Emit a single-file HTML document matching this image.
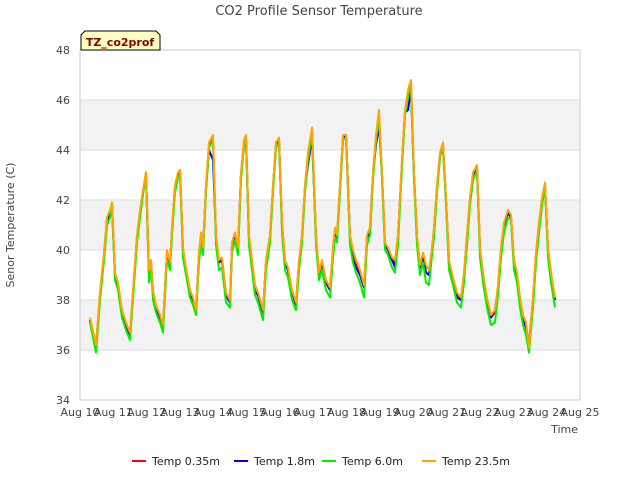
<!DOCTYPE html>
<html><head><meta charset="utf-8"><style>
body{margin:0;background:#fff;font-family:"Liberation Sans","DejaVu Sans",sans-serif;}
svg text{font-family:"DejaVu Sans","Liberation Sans",sans-serif;}
</style></head><body>
<svg id="chart" width="640" height="480" viewBox="0 0 640 480" xmlns="http://www.w3.org/2000/svg">
<rect x="0" y="0" width="640" height="480" fill="#fff"/>
<text x="319" y="15" text-anchor="middle" font-size="13" fill="#444">CO2 Profile Sensor Temperature</text>
<g id="bands"></g>
<g id="grid"></g>
<rect x="80" y="50" width="500" height="350" fill="none" stroke="#ccc"/>
<g id="yticks"></g>
<g id="xticks"></g>
<g id="series"></g>
<text x="14" y="225" transform="rotate(-90 14 225)" text-anchor="middle" font-size="11" fill="#444">Senor Temperature (C)</text>
<text x="578" y="433" text-anchor="end" font-size="11" fill="#444">Time</text>
<g>
<path d="M81,50 L81,35 L85,31 L156,31 L160,35 L160,50 Z" fill="#ffffc0" stroke="#000" stroke-width="1"/>
<text x="120" y="46" text-anchor="middle" font-size="11" font-weight="bold" fill="#8b0000">TZ_co2prof</text>
</g>
<g id="legend"></g>
</svg>
<script>
const yTicks=[34,36,38,40,42,44,46,48];
const xTickLabels=["Aug 10","Aug 11","Aug 12","Aug 13","Aug 14","Aug 15","Aug 16","Aug 17","Aug 18","Aug 19","Aug 20","Aug 21","Aug 22","Aug 23","Aug 24","Aug 25"];
const seriesNames=["Temp 0.35m","Temp 1.8m","Temp 6.0m","Temp 23.5m"];
const seriesColors=["#ff0000","#0000ff","#00ee00","#ffa500"];
const days=[0.3,0.48,0.6,0.72,0.81,0.9,0.96,1.05,1.14,1.26,1.38,1.5,1.62,1.71,1.8,1.89,1.98,2.07,2.13,2.19,2.28,2.4,2.49,2.61,2.7,2.76,2.85,2.94,3.0,3.09,3.18,3.3,3.39,3.48,3.57,3.63,3.69,3.78,3.87,3.99,4.08,4.17,4.26,4.38,4.5,4.56,4.65,4.74,4.83,4.92,4.98,5.07,5.16,5.25,5.34,5.49,5.58,5.7,5.79,5.88,5.97,6.06,6.15,6.24,6.36,6.48,6.57,6.66,6.75,6.84,6.96,7.08,7.17,7.26,7.38,7.5,7.59,7.65,7.71,7.8,7.89,7.98,8.1,8.19,8.28,8.4,8.52,8.61,8.7,8.79,8.88,8.97,9.06,9.15,9.24,9.36,9.45,9.54,9.66,9.75,9.84,9.93,10.02,10.11,10.2,10.29,10.38,10.47,10.56,10.62,10.71,10.8,10.89,10.98,11.07,11.19,11.31,11.43,11.52,11.61,11.7,11.79,11.91,12.0,12.09,12.21,12.33,12.45,12.54,12.63,12.72,12.84,12.93,13.02,13.11,13.2,13.29,13.38,13.47,13.59,13.68,13.77,13.86,13.95,14.04,14.13,14.25];
const temp035=[37.2,36.1,38.2,39.8,41.2,41.5,41.8,39.0,38.6,37.5,37.0,36.6,38.8,40.5,41.5,42.3,43.1,39.0,39.5,38.3,37.7,37.3,36.9,39.9,39.4,40.8,42.5,43.0,43.2,40.0,39.2,38.3,38.0,37.5,39.8,40.6,40.0,42.5,44.2,44.5,40.5,39.5,39.6,38.2,37.9,40.2,40.6,40.0,43.0,44.3,44.5,40.5,39.5,38.5,38.2,37.5,39.5,40.5,42.5,44.2,44.4,41.0,39.5,39.2,38.3,37.8,39.5,40.5,42.5,43.8,44.8,40.5,39.0,39.5,38.7,38.4,40.0,40.8,40.5,42.5,44.5,44.6,40.5,39.8,39.4,39.0,38.5,40.5,40.8,43.0,44.5,45.4,43.0,40.2,40.0,39.6,39.5,40.5,43.5,45.5,46.3,46.6,43.0,40.5,39.3,39.8,39.1,39.0,40.0,40.8,42.5,43.8,44.2,42.0,39.5,38.8,38.2,38.0,39.0,40.5,42.0,43.0,43.3,40.0,39.0,38.0,37.3,37.5,38.5,40.0,41.0,41.5,41.3,39.5,39.0,38.0,37.3,37.0,36.2,38.0,39.8,41.0,42.0,42.6,40.0,39.0,38.0];
const temp18=[37.2,36.1,38.2,39.8,41.2,41.5,41.8,39.0,38.6,37.5,37.0,36.6,38.8,40.5,41.5,42.3,43.0,39.0,39.5,38.3,37.7,37.3,36.9,39.9,39.4,40.8,42.5,43.0,43.1,40.0,39.2,38.3,38.0,37.5,39.8,40.6,40.0,42.5,44.0,43.6,40.5,39.5,39.6,38.2,37.9,40.2,40.6,40.0,43.0,44.3,44.4,40.5,39.5,38.3,38.2,37.5,39.5,40.5,42.5,44.2,44.4,41.0,39.5,39.2,38.3,37.8,39.5,40.5,42.5,43.4,44.5,40.5,39.0,39.5,38.7,38.4,40.0,40.8,40.5,42.5,44.5,44.6,40.5,39.6,39.3,39.0,38.5,40.5,40.8,43.0,44.2,45.0,43.0,40.2,40.0,39.6,39.3,40.5,43.5,45.5,45.6,46.4,43.0,40.5,39.3,39.8,39.1,39.0,40.0,40.8,42.5,43.8,44.2,42.0,39.5,38.8,38.1,38.0,39.0,40.5,42.0,43.0,43.3,40.0,39.0,38.0,37.3,37.6,38.5,40.0,41.0,41.5,41.3,39.5,39.0,38.0,37.2,36.9,36.2,38.0,39.8,41.0,42.0,42.6,40.0,39.0,38.0];
const temp60=[37.1,35.9,38.0,39.6,41.0,41.3,41.7,38.8,38.4,37.3,36.8,36.4,38.6,40.3,41.3,42.2,43.0,38.7,39.3,38.0,37.5,37.1,36.7,39.6,39.2,40.6,42.3,42.9,43.0,39.7,39.0,38.1,37.8,37.4,39.5,40.3,39.8,42.3,44.1,44.4,40.2,39.2,39.3,37.9,37.7,39.9,40.4,39.8,42.8,44.2,44.4,40.2,39.2,38.2,37.9,37.2,39.2,40.3,42.3,44.1,44.3,40.7,39.2,38.9,38.0,37.6,39.2,40.3,42.3,43.6,44.7,40.2,38.8,39.2,38.4,38.1,39.7,40.5,40.3,42.3,44.4,44.5,40.2,39.5,39.1,38.7,38.1,40.2,40.6,42.8,44.4,45.3,42.8,40.0,39.8,39.3,39.1,40.2,43.3,45.4,46.2,46.5,42.8,40.2,39.0,39.5,38.7,38.6,39.8,40.5,42.3,43.7,44.1,41.8,39.2,38.6,37.9,37.7,38.7,40.2,41.8,42.8,43.2,39.7,38.7,37.7,37.0,37.1,38.2,39.7,40.7,41.3,41.2,39.2,38.7,37.7,37.0,36.6,35.9,37.7,39.5,40.7,41.8,42.5,39.7,38.7,37.7];
const temp235=[37.3,36.2,38.3,39.9,41.3,41.6,41.9,39.1,38.7,37.6,37.1,36.7,38.9,40.6,41.6,42.4,43.1,39.2,39.6,38.4,37.8,37.4,37.0,40.0,39.5,40.9,42.6,43.1,43.2,40.1,39.3,38.4,38.1,37.6,39.9,40.7,40.1,42.6,44.3,44.6,40.6,39.6,39.7,38.3,38.0,40.3,40.7,40.1,43.1,44.4,44.6,40.6,39.6,38.6,38.3,37.6,39.6,40.6,42.6,44.3,44.5,41.1,39.6,39.3,38.4,37.9,39.6,40.6,42.6,43.9,44.9,40.6,39.1,39.6,38.8,38.5,40.1,40.9,40.6,42.6,44.6,44.6,40.6,40.0,39.6,39.2,38.6,40.6,40.9,43.1,44.6,45.6,43.1,40.3,40.1,39.7,39.6,40.6,43.6,45.6,46.4,46.8,43.1,40.6,39.4,39.9,39.4,39.2,40.1,40.9,42.6,43.9,44.3,42.1,39.6,38.9,38.3,38.1,39.1,40.6,42.1,43.1,43.4,40.1,39.1,38.1,37.4,37.6,38.6,40.1,41.1,41.6,41.4,39.6,39.1,38.1,37.4,37.1,36.1,38.1,39.9,41.1,42.1,42.7,40.1,39.1,38.1];
const allSeries=[temp035,temp18,temp60,temp235];

const NS="http://www.w3.org/2000/svg";
const X0=80,X1=580,Y0=400,Y1=50;
function xScale(d){return X0+(d-0)*(X1-X0)/15;}
function yScale(v){return Y0-(v-34)*(Y0-Y1)/14;}
function mk(tag,attrs,parent){const e=document.createElementNS(NS,tag);for(const k in attrs)e.setAttribute(k,attrs[k]);parent.appendChild(e);return e;}

const bands=document.getElementById('bands');
for(let i=0;i<yTicks.length-1;i++){
  if(i%2===1){
    const r=mk('rect',{x:X0,y:yScale(yTicks[i+1]),width:X1-X0,height:yScale(yTicks[i])-yScale(yTicks[i+1]),fill:'#f2f2f2'},bands);
    
    
  }
}
const grid=document.getElementById('grid');
const yg=document.getElementById('yticks');
yTicks.forEach(t=>{
  const l=mk('line',{x1:X0,x2:X1,y1:yScale(t),y2:yScale(t),stroke:'#ddd'},grid);
  
  
  const tx=mk('text',{x:X0-10,y:yScale(t)+4,'text-anchor':'end','font-size':'11',fill:'#444'},yg);
  tx.textContent=t;
  
  
});
const xg=document.getElementById('xticks');
xTickLabels.forEach((lab,i)=>{
  const tx=mk('text',{x:xScale(i),y:416,'text-anchor':'middle','font-size':'11',fill:'#444'},xg);
  tx.textContent=lab;
  
  
});
const sg=document.getElementById('series');
allSeries.forEach((vals,si)=>{
  const pts=days.map((d,i)=>xScale(d).toFixed(1)+','+yScale(vals[i]).toFixed(1)).join(' ');
  const p=mk('polyline',{points:pts,fill:'none',stroke:seriesColors[si],'stroke-width':'2','stroke-linejoin':'round'},sg);
  
  
});
const lg=document.getElementById('legend');
const lx=[132,234,322,422];
seriesNames.forEach((n,i)=>{
  const g=mk('g',{},lg);
  
  
  mk('line',{x1:lx[i],x2:lx[i]+14,y1:461,y2:461,stroke:seriesColors[i],'stroke-width':'2'},g);
  const t=mk('text',{x:lx[i]+20,y:465,'font-size':'11',fill:'#222'},g);
  t.textContent=n;
});
</script>
</body></html>
